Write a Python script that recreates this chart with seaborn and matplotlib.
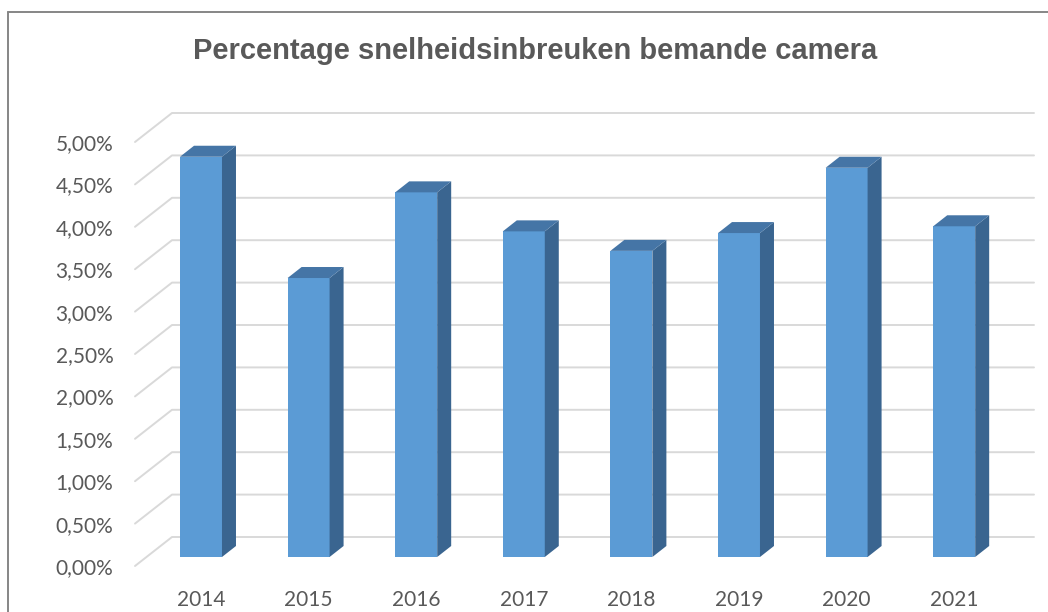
import numpy as np
import pandas as pd
import seaborn as sns
import matplotlib.pyplot as plt
from matplotlib.lines import Line2D

years = ["2014", "2015", "2016", "2017", "2018", "2019", "2020", "2021"]
percentages = [4.72, 3.29, 4.30, 3.84, 3.61, 3.82, 4.59, 3.90]
tick_values = np.arange(0, 5.01, 0.5)
tick_labels = [f"{v:.2f}".replace(".", ",") + "%" for v in tick_values]
title = "Percentage snelheidsinbreuken bemande camera"

FRONT = "#5B9BD5"
SIDE = "#3A6590"
TOP = "#4575A6"
GRID = "#D9D9D9"
TEXT = "#595959"

sns.set_theme(style="white")
plt.rcParams["font.family"] = ["Liberation Sans", "DejaVu Sans"]

W, H = 1048, 612
fig = plt.figure(figsize=(W / 100, H / 100), dpi=100)
ax = fig.add_axes([130 / W, 32 / H, 910 / W, 480 / H])

# pixel scales of the "front" plane, used to fake the 3d look
px_x, px_y = 107.6, 84.8
depth_x, depth_y = 14 / px_x, 11 / px_y
label_off = 9 / px_y
back_off = 20 / px_y

df = pd.DataFrame({"year": years, "pct": percentages})
sns.barplot(data=df, x="year", y="pct", color=FRONT, saturation=1,
            width=0.39, linewidth=0, ax=ax, zorder=2)

for bar in list(ax.patches):
    x0, w, h = bar.get_x(), bar.get_width(), bar.get_height()
    ax.fill([x0 + w, x0 + w + depth_x, x0 + w + depth_x, x0 + w],
            [0, depth_y, h + depth_y, h], color=SIDE, lw=0, zorder=2)
    ax.fill([x0, x0 + depth_x, x0 + w + depth_x, x0 + w],
            [h, h + depth_y, h + depth_y, h], color=TOP, lw=0, zorder=2)

wall_front = (135 - 201) / px_x
wall_back = (172 - 201) / px_x
grid_end = (1034 - 201) / px_x
for v in tick_values:
    ax.plot([wall_front, wall_back, grid_end],
            [v - label_off, v + back_off, v + back_off],
            color=GRID, lw=1.4, zorder=0, clip_on=False)

ax.set_xlim((130 - 201) / px_x, (1040 - 201) / px_x)
ax.set_ylim((557 - 580) / px_y, (557 - 100) / px_y)
ax.set_yticks(tick_values - label_off, tick_labels)
ax.set_xlabel("")
ax.set_ylabel("")
ax.tick_params(axis="y", length=0, pad=12, labelsize=15, labelcolor=TEXT)
ax.tick_params(axis="x", length=0, pad=7, labelsize=15, labelcolor=TEXT)
for lab in ax.get_xticklabels() + ax.get_yticklabels():
    lab.set_family(["Lato", "DejaVu Sans"])
sns.despine(ax=ax, left=True, bottom=True)

fig.text(535 / W, 1 - 59 / H, title, ha="center", va="baseline",
         fontsize=21, fontweight="bold", color=TEXT)

# chart border (only top and left visible in the crop)
fig.add_artist(Line2D([7.5 / W, 7.5 / W], [0, 1 - 12 / H], color="#868686", lw=1.4))
fig.add_artist(Line2D([7.5 / W, 1], [1 - 12 / H, 1 - 12 / H], color="#868686", lw=1.4))

fig.savefig("out.png", dpi=100)
